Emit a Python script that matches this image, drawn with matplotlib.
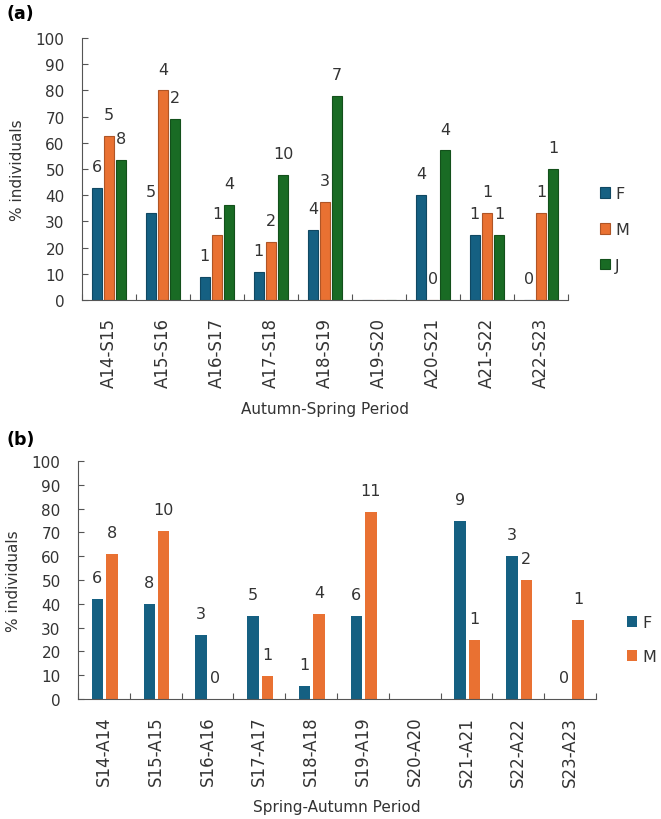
import numpy as np
import matplotlib
matplotlib.use('Agg')
import matplotlib.pyplot as plt

plt.rcParams['font.family'] = ['DejaVu Sans']

# panel (a): autumn-spring
periods_a = ['A14-S15', 'A15-S16', 'A16-S17', 'A17-S18', 'A18-S19',
             'A19-S20', 'A20-S21', 'A21-S22', 'A22-S23']
f_a = [42.9, 33.3, 8.7, 10.8, 26.7, np.nan, 40.0, 25.0, 0.0]
m_a = [62.5, 80.0, 25.0, 22.2, 37.5, np.nan, 0.0, 33.3, 33.3]
j_a = [53.3, 69.0, 36.4, 47.6, 77.8, np.nan, 57.1, 25.0, 50.0]
n_f_a = [6, 5, 1, 1, 4, None, 4, 1, 0]
n_m_a = [5, 4, 1, 2, 3, None, 0, 1, 1]
n_j_a = [8, 2, 4, 10, 7, None, 4, 1, 1]

# panel (b): spring-autumn
periods_b = ['S14-A14', 'S15-A15', 'S16-A16', 'S17-A17', 'S18-A18',
             'S19-A19', 'S20-A20', 'S21-A21', 'S22-A22', 'S23-A23']
f_b = [42.0, 40.0, 27.0, 35.0, 5.6, 35.0, np.nan, 75.0, 60.0, 0.0]
m_b = [61.0, 70.7, 0.0, 9.7, 35.7, 78.6, np.nan, 25.0, 50.0, 33.3]
n_f_b = [6, 8, 3, 5, 1, 6, None, 9, 3, 0]
n_m_b = [8, 10, 0, 1, 4, 11, None, 1, 2, 1]

C_F = '#156082'
C_M = '#E97132'
C_J = '#196B24'


def darker(c, k=0.75):
    rgb = np.array(matplotlib.colors.to_rgb(c))
    return tuple(rgb * k)


def style_axes(ax, labels, xlabel):
    n = len(labels)
    ax.set_xlim(-0.5, n - 0.5)
    ax.set_ylim(0, 100)
    ax.set_yticks(range(0, 101, 10))
    ax.set_xticks(range(n))
    ax.set_xticklabels(labels, rotation=90)
    ax.set_xticks(np.arange(-0.5, n, 1), minor=True)
    ax.tick_params(axis='x', which='major', length=0, pad=12, labelsize=12,
                   labelcolor='#333333')
    ax.tick_params(axis='x', which='minor', direction='in', length=4, width=0.8,
                   color='#555555')
    ax.tick_params(axis='y', direction='in', length=4, width=0.8, labelsize=11,
                   pad=12.5, color='#555555', labelcolor='#333333')
    for s in ['top', 'right']:
        ax.spines[s].set_visible(False)
    ax.spines['left'].set_color('#555555')
    ax.spines['bottom'].set_color('#555555')
    ax.set_ylabel('% individuals', fontsize=11, labelpad=8, color='#333333')
    ax.set_xlabel(xlabel, fontsize=11, labelpad=10, color='#333333')


def draw_series(ax, vals, counts, offset, width, color, label, edge=True):
    x = np.arange(len(vals)) + offset
    v = np.array(vals, dtype=float)
    ec = darker(color) if edge else color
    ax.bar(x, np.nan_to_num(v), width, color=color, edgecolor=ec,
           linewidth=0.8 if edge else 0, label=label)
    for xi, vi, c in zip(x, v, counts):
        if c is None:
            continue
        ax.annotate(str(c), (xi, vi), xytext=(0, 10), textcoords='offset points',
                    ha='center', va='bottom', fontsize=11.5, color='#333333')


fig = plt.figure(figsize=(6.61, 8.2), dpi=100)

ax1 = fig.add_axes([82 / 661, 1 - 301 / 820, 486 / 661, 262 / 820])
draw_series(ax1, f_a, n_f_a, -0.225, 0.18, C_F, 'F')
draw_series(ax1, m_a, n_m_a, 0.0, 0.18, C_M, 'M')
draw_series(ax1, j_a, n_j_a, 0.225, 0.18, C_J, 'J')
style_axes(ax1, periods_a, 'Autumn-Spring Period')
ax1.legend(loc='center left', bbox_to_anchor=(600 / 661, 1 - 230.5 / 820),
           bbox_transform=fig.transFigure, frameon=False, fontsize=11.5,
           handlelength=0.65, handleheight=0.65, handletextpad=0.3,
           labelspacing=1.3, borderpad=0, borderaxespad=0, labelcolor='#333333')

ax2 = fig.add_axes([78 / 661, 1 - 700 / 820, 518 / 661, 238 / 820])
draw_series(ax2, f_b, n_f_b, -0.125, 0.22, C_F, 'F', edge=False)
draw_series(ax2, m_b, n_m_b, 0.155, 0.22, C_M, 'M', edge=False)
style_axes(ax2, periods_b, 'Spring-Autumn Period')
ax2.legend(loc='center left', bbox_to_anchor=(627 / 661, 1 - 640.5 / 820),
           bbox_transform=fig.transFigure, frameon=False, fontsize=11.5,
           handlelength=0.65, handleheight=0.65, handletextpad=0.3,
           labelspacing=1.2, borderpad=0, borderaxespad=0, labelcolor='#333333')

fig.text(7 / 661, 1 - 14 / 820, '(a)', fontsize=12.5, fontweight='bold', va='center')
fig.text(7 / 661, 1 - 440 / 820, '(b)', fontsize=12.5, fontweight='bold', va='center')

fig.savefig('out.png', dpi=100)
